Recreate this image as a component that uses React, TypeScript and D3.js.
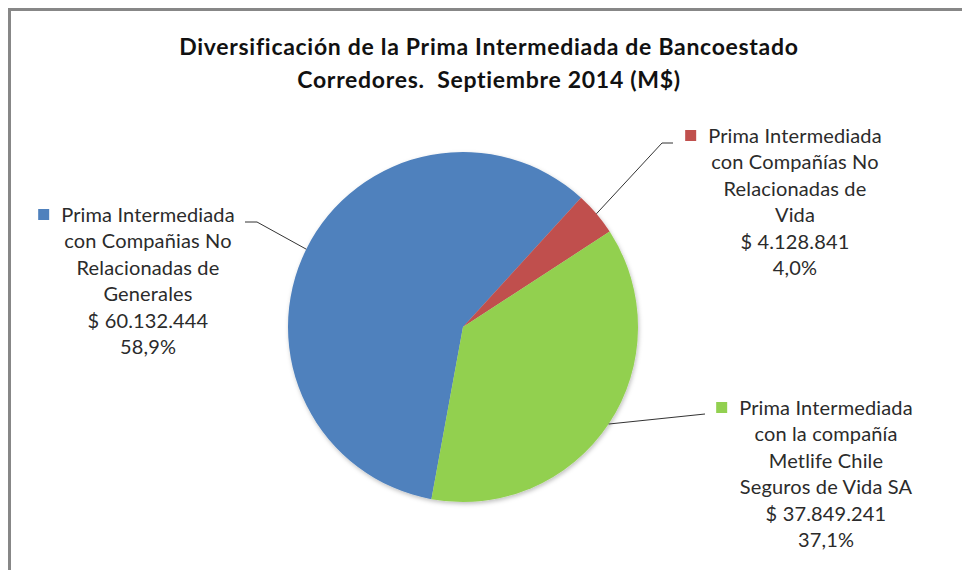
import React, { useEffect, useRef } from "react"
import * as d3 from "d3";

const titleLines = [ "Diversificación de la Prima Intermediada de Bancoestado", "Corredores.  Septiembre 2014 (M$)" ];

const categories = [
	[ "Prima Intermediada", "con Compañias No", "Relacionadas de", "Generales" ],
	[ "Prima Intermediada", "con Compañías No", "Relacionadas de", "Vida" ],
	[ "Prima Intermediada", "con la compañía", "Metlife Chile", "Seguros de Vida SA" ],
];

const values = [ 60132444, 4128841, 37849241 ];

const colors = [ "#4F81BD", "#C0504D", "#92D050" ];

// where each label block sits ( center x, first baseline ) and the elbow of its leader line
const labelPos = [
	{ x: 148, y: 222, elbow: [ 257, 222 ], end: [ 245, 222 ] },
	{ x: 795, y: 143, elbow: [ 662, 143 ], end: [ 673, 143 ] },
	{ x: 826, y: 415, elbow: [ 705, 414 ], end: [ 705, 414 ] },
];

export default function App() {

	const ref = useRef<SVGSVGElement>( null );

	useEffect( () => {

		let svg = d3.select( ref.current );
		svg.selectAll( "*" ).remove();

		let width = 962;
		let cx = 463, cy = 327, radius = 175;
		let lineH = 26.4;

		let locale = d3.formatLocale({ decimal: ",", thousands: ".", grouping: [ 3 ], currency: [ "$ ", "" ] });
		let money = locale.format( "$,d" );
		let pct = locale.format( ".1%" );
		let total = d3.sum( values );

		// chart area border
		svg.append( "rect" )
			.attr( "x", 9.5 )
			.attr( "y", 9.5 )
			.attr( "width", width + 20 )
			.attr( "height", 600 )
			.attr( "fill", "#fff" )
			.attr( "stroke", "#878787" )
			.attr( "stroke-width", 3 );

		let title = svg.append( "text" )
			.attr( "text-anchor", "middle" )
			.attr( "font-family", "Lato, sans-serif" )
			.attr( "font-weight", "bold" )
			.attr( "font-size", 23 )
			.attr( "letter-spacing", 0.7 )
			.attr( "fill", "#111" );

		titleLines.forEach( ( t, i ) => {
			title.append( "tspan" )
				.attr( "x", 489 )
				.attr( "y", 55 + i * 33 )
				.style( "white-space", "pre" )
				.text( t );
		});

		let defs = svg.append( "defs" );
		let filter = defs.append( "filter" ).attr( "id", "shadow" ).attr( "x", "-10%" ).attr( "y", "-10%" ).attr( "width", "120%" ).attr( "height", "120%" );
		filter.append( "feDropShadow" )
			.attr( "dx", 1 )
			.attr( "dy", 2 )
			.attr( "stdDeviation", 2 )
			.attr( "flood-color", "#000" )
			.attr( "flood-opacity", 0.25 );

		let pie = d3.pie<number>()
			.sort( null )
			.value( ( d ) => d )
			.startAngle( 190.4 * Math.PI / 180 )
			.endAngle( ( 190.4 + 360 ) * Math.PI / 180 );

		let arc = d3.arc<d3.PieArcDatum<number>>()
			.innerRadius( 0 )
			.outerRadius( radius );

		let edge = d3.arc<d3.PieArcDatum<number>>()
			.innerRadius( radius )
			.outerRadius( radius );

		let arcs = pie( values );

		let g = svg.append( "g" )
			.attr( "transform", "translate(" + cx + "," + cy + ")" );

		g.append( "g" )
			.attr( "filter", "url(#shadow)" )
			.selectAll( "path" )
			.data( arcs )
			.enter()
			.append( "path" )
				.attr( "d", arc )
				.attr( "fill", ( d, i ) => colors[ i ] );

		arcs.forEach( ( d, i ) => {

			let p = labelPos[ i ];
			let [ ex, ey ] = edge.centroid( d );

			// leader line from the slice edge to its label
			svg.append( "polyline" )
				.attr( "points", [ [ cx + ex, cy + ey ], p.elbow, p.end ].map( ( q ) => q.join( "," ) ).join( " " ) )
				.attr( "fill", "none" )
				.attr( "stroke", "#333" )
				.attr( "stroke-width", 1 );

			let lines = categories[ i ].concat( [ money( values[ i ] ), pct( values[ i ] / total ) ] );

			let text = svg.append( "text" )
				.attr( "text-anchor", "middle" )
				.attr( "font-family", "Lato, sans-serif" )
				.attr( "font-size", 20 )
				.attr( "letter-spacing", 0.15 )
				.attr( "fill", "#2b2b2b" );

			lines.forEach( ( l, j ) => {
				text.append( "tspan" )
					.attr( "x", p.x )
					.attr( "y", p.y + j * lineH )
					.text( l );
			});

			// legend key in front of the first line
			let first = ( text.node() as SVGTextElement ).getSubStringLength( 0, lines[ 0 ].length );
			svg.append( "rect" )
				.attr( "x", p.x - first / 2 - 23 )
				.attr( "y", p.y - 13 )
				.attr( "width", 11 )
				.attr( "height", 11 )
				.attr( "fill", colors[ i ] );
		});

	}, [] );

	return (
		<svg ref={ ref } width={ 962 } height={ 570 } style={{ position: "absolute", left: 0, top: 0 }}></svg>
	)
}
